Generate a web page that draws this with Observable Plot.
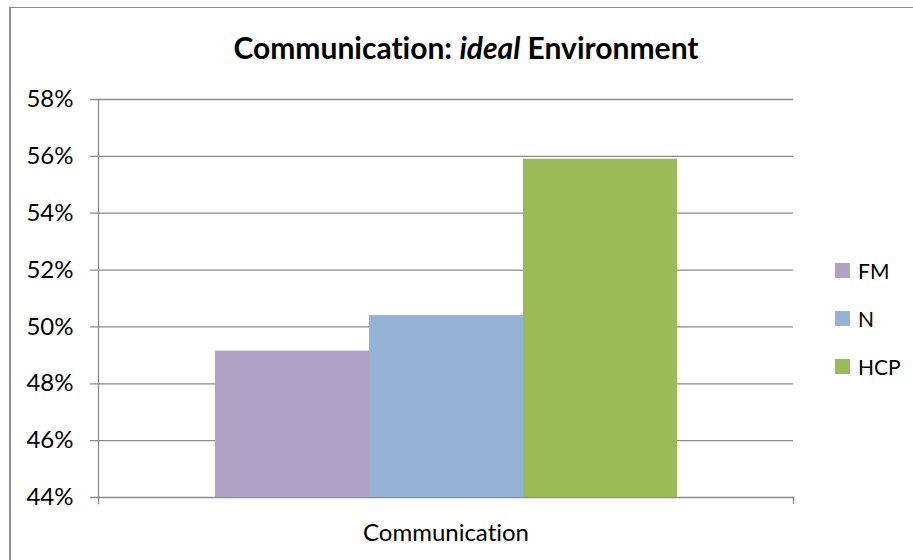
<!DOCTYPE html>
<html>
<head>
<meta charset="utf-8">
<script src="https://cdn.jsdelivr.net/npm/d3@7"></script>
<script src="https://cdn.jsdelivr.net/npm/@observablehq/plot@0.6"></script>
<style>
  html, body { margin: 0; padding: 0; background: #fff; }
  #wrap { position: relative; width: 913px; height: 560px; overflow: hidden; background: #fff; font-family: Lato, "Open Sans", sans-serif; font-variant-ligatures: none; }
  #wrap svg text { font-variant-ligatures: none; }
  #border { position: absolute; left: 9px; top: 7px; right: -5px; bottom: -5px; border-left: 2px solid #8c8c8c; border-top: 1px solid #8c8c8c; }
  #title { position: absolute; left: 0; width: 932px; top: 29px; text-align: center; font-weight: bold; font-size: 30px; color: #000; white-space: nowrap; }
  #chart { position: absolute; left: 0; top: 0; }
  #legend { position: absolute; left: 835px; top: 246px; font-size: 21px; color: #000; }
  .item { display: flex; align-items: center; height: 48px; }
  .sw { width: 15px; height: 15px; margin-right: 8px; }
</style>
</head>
<body>
<div id="wrap">
  <div id="border"></div>
  <div id="chart"></div>
  <div id="title">Communication: <i>ideal</i> Environment</div>
  <div id="legend"></div>
</div>
<script>
const categories = ["Communication"];
const series = ["FM", "N", "HCP"];
const values = [0.4915, 0.504, 0.559];
const colors = ["#b3a2c7", "#95b3d7", "#9bbb59"];
const yTicks = [0.44, 0.46, 0.48, 0.50, 0.52, 0.54, 0.56, 0.58];
const yDomain = [0.44, 0.58];

const data = series.map((s, i) => ({group: categories[0], series: s, value: values[i]}));
const grid = "#8c8c8c";

const chart = Plot.plot({
  width: 913,
  height: 560,
  marginLeft: 98,
  marginRight: 120,
  marginTop: 99,
  marginBottom: 63,
  style: {fontFamily: "Lato, 'Open Sans', sans-serif", fontSize: "24px", color: "#000", background: "transparent", overflow: "visible"},
  fx: {domain: categories, padding: 0, label: null, tickSize: 0, tickPadding: 26, axis: "bottom"},
  x: {domain: series, paddingInner: 0, paddingOuter: 0.75, axis: null},
  y: {domain: yDomain, ticks: yTicks, tickFormat: d3.format(".0%"), label: null, tickSize: 0, tickPadding: 25},
  color: {domain: series, range: colors},
  marks: [
    Plot.ruleY(yTicks, {stroke: grid, strokeWidth: 1.3, insetLeft: -8}),
    Plot.barY(data, {fx: "group", x: "series", y1: yDomain[0], y2: "value", fill: "series"}),
    Plot.frame({anchor: "left", stroke: grid, strokeWidth: 1.3, insetBottom: -6}),
    Plot.frame({anchor: "right", stroke: grid, strokeWidth: 1.3, insetTop: 398, insetBottom: -6})
  ]
});
document.getElementById("chart").appendChild(chart);

const legend = document.getElementById("legend");
series.forEach((s, i) => {
  const item = document.createElement("div");
  item.className = "item";
  const sw = document.createElement("div");
  sw.className = "sw";
  sw.style.background = colors[i];
  const t = document.createElement("span");
  t.textContent = s;
  item.appendChild(sw);
  item.appendChild(t);
  legend.appendChild(item);
});
</script>
</body>
</html>
